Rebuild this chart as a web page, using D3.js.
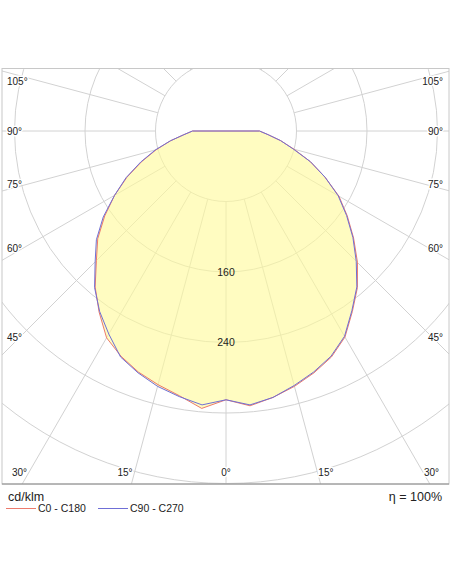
<!DOCTYPE html>
<html>
<head>
<meta charset="utf-8">
<script src="https://d3js.org/d3.v7.min.js"></script>
<style>
  html, body { margin: 0; padding: 0; background: #fff; }
  svg { display: block; font-family: "Liberation Sans", Arial, sans-serif; }
</style>
</head>
<body>
<div id="chart"></div>
<script>
// data (cd/klm), gamma 0..90 in 5 degree steps
const gammas = [0, 5, 10, 15, 20, 25, 30, 35, 40, 45, 50, 55, 60, 65, 70, 75, 80, 85, 90];
const c0   = [305, 313, 307, 300, 292, 283, 270, 250, 232, 211, 189, 168, 148, 124, 102, 80, 63, 48, 38];
const c180 = [305, 316, 305, 298, 291, 282, 271, 251, 231, 208, 190, 168, 146, 124, 102, 82, 64, 48, 38];
const c90  = [305, 312, 307, 299, 291, 282, 269, 249, 231, 209, 188, 167, 147, 124, 102, 79, 63, 48, 38];
const c270 = [305, 312, 306, 300, 292, 283, 266, 250, 232, 210, 192, 170, 146, 125, 103, 83, 64, 48, 38];

const rings = [80, 160, 240, 320, 400, 480, 560];
const ringLabels = [160, 240];
const sideAngles = [105, 90, 75, 60, 45];
const bottomAngles = [30, 15, 0, 15, 30];
const legendNames = ["C0 - C180", "C90 - C270"];
const legendColors = ["#ec7a6c", "#6f6fd6"];

const width = 452;
const height = 584;
const frame = { x: 2, y: 68.5, w: 447, h: 415.5 };
const cx = 226;
const cy = 131;

const r = d3.scaleLinear().domain([0, 80]).range([0, 70.5]);

const svg = d3.select("#chart")
    .append("svg")
    .attr("width", width)
    .attr("height", height);

svg.append("clipPath")
    .attr("id", "frameClip")
    .append("rect")
    .attr("x", frame.x)
    .attr("y", frame.y)
    .attr("width", frame.w)
    .attr("height", frame.h);

const plot = svg.append("g").attr("clip-path", "url(#frameClip)");

// point for gamma angle (deg, 0 = straight down), side -1 left / +1 right
function polar(g, value, side) {
    const a = g * Math.PI / 180;
    return [cx + side * r(value) * Math.sin(a), cy + r(value) * Math.cos(a)];
}

// grid rings
plot.selectAll("circle.ring")
    .data(rings)
    .enter()
    .append("circle")
    .attr("class", "ring")
    .attr("cx", cx)
    .attr("cy", cy)
    .attr("r", d => r(d))
    .attr("fill", "none")
    .attr("stroke", "#d2d2d2")
    .attr("stroke-width", 1);

// radial lines every 15 degrees, starting at the first ring
const spokes = d3.range(0, 360, 15);
plot.selectAll("line.spoke")
    .data(spokes)
    .enter()
    .append("line")
    .attr("class", "spoke")
    .attr("x1", d => polar(d, 80, 1)[0])
    .attr("y1", d => polar(d, 80, 1)[1])
    .attr("x2", d => polar(d, 700, 1)[0])
    .attr("y2", d => polar(d, 700, 1)[1])
    .attr("stroke", "#d2d2d2")
    .attr("stroke-width", 1);

// build closed outline of a C-plane pair
function planePoints(left, right) {
    const pts = [[cx, cy]];
    for (let i = gammas.length - 1; i >= 0; i--) pts.push(polar(gammas[i], left[i], -1));
    for (let i = 0; i < gammas.length; i++) pts.push(polar(gammas[i], right[i], 1));
    return pts;
}

const line = d3.line().curve(d3.curveLinearClosed);
const planes = [planePoints(c180, c0), planePoints(c270, c90)];

// yellow fill, semi transparent so the grid shows through
const fillGroup = plot.append("g").attr("opacity", 0.62);
fillGroup.selectAll("path")
    .data(planes)
    .enter()
    .append("path")
    .attr("d", d => line(d))
    .attr("fill", "#fffb9c")
    .attr("stroke", "none");

plot.selectAll("path.curve")
    .data(planes)
    .enter()
    .append("path")
    .attr("class", "curve")
    .attr("d", d => line(d))
    .attr("fill", "none")
    .attr("stroke", (d, i) => legendColors[i])
    .attr("stroke-width", 1);

// ring labels
plot.selectAll("text.ringLabel")
    .data(ringLabels)
    .enter()
    .append("text")
    .attr("class", "ringLabel")
    .attr("x", cx)
    .attr("y", d => cy + r(d))
    .attr("dy", "0.35em")
    .attr("text-anchor", "middle")
    .style("font-size", "10.5px")
    .style("fill", "#222")
    .text(d => d);

// frame
svg.append("rect")
    .attr("x", frame.x)
    .attr("y", frame.y)
    .attr("width", frame.w)
    .attr("height", frame.h)
    .attr("fill", "none")
    .attr("stroke", "#c8c8c8")
    .attr("stroke-width", 1);
svg.append("line")
    .attr("x1", frame.x)
    .attr("x2", frame.x + frame.w)
    .attr("y1", frame.y + frame.h)
    .attr("y2", frame.y + frame.h)
    .attr("stroke", "#8a8a8a")
    .attr("stroke-width", 1.2);

// angle labels on the sides
function sideY(g) {
    const a = g * Math.PI / 180;
    let y = cy + 209 * Math.cos(a) / Math.sin(a);
    if (g < 90) y -= 3;
    return Math.max(y, frame.y + 13);
}

function angleText(sel) {
    sel.style("font-size", "10px")
        .style("fill", "#222")
        .attr("dy", "0.35em")
        .attr("stroke", "#fff")
        .attr("stroke-width", 3)
        .attr("paint-order", "stroke")
        .text(d => d + "°");
}

svg.selectAll("text.leftAngle")
    .data(sideAngles)
    .enter()
    .append("text")
    .attr("class", "leftAngle")
    .attr("x", 7)
    .attr("y", d => sideY(d))
    .attr("text-anchor", "start")
    .call(angleText);

svg.selectAll("text.rightAngle")
    .data(sideAngles)
    .enter()
    .append("text")
    .attr("class", "rightAngle")
    .attr("x", 443)
    .attr("y", d => sideY(d))
    .attr("text-anchor", "end")
    .call(angleText);

// angle labels along the bottom
const bottomY = 472;
svg.selectAll("text.bottomAngle")
    .data(bottomAngles)
    .enter()
    .append("text")
    .attr("class", "bottomAngle")
    .attr("x", (d, i) => {
        const dx = (bottomY - cy) * Math.tan(d * Math.PI / 180);
        if (d === 0) return cx;
        return i < 2 ? cx - dx - 2 : cx + dx + 1;
    })
    .attr("y", bottomY)
    .attr("text-anchor", (d, i) => d === 0 ? "middle" : (i < 2 ? "end" : "start"))
    .call(angleText);

// unit and legend
svg.append("text")
    .attr("x", 8)
    .attr("y", 497)
    .attr("dy", "0.35em")
    .style("font-size", "12.5px")
    .style("fill", "#222")
    .text("cd/klm");

const legendX = [6, 98];
legendNames.forEach((name, i) => {
    svg.append("line")
        .attr("x1", legendX[i])
        .attr("x2", legendX[i] + 30)
        .attr("y1", 508.5)
        .attr("y2", 508.5)
        .attr("stroke", legendColors[i])
        .attr("stroke-width", 1);
    svg.append("text")
        .attr("x", legendX[i] + 32)
        .attr("y", 508.5)
        .attr("dy", "0.35em")
        .style("font-size", "10.5px")
        .style("fill", "#222")
        .text(name);
});

svg.append("text")
    .attr("x", 442)
    .attr("y", 497)
    .attr("dy", "0.35em")
    .attr("text-anchor", "end")
    .style("font-size", "12.5px")
    .style("fill", "#222")
    .text("η = 100%");
</script>
</body>
</html>
